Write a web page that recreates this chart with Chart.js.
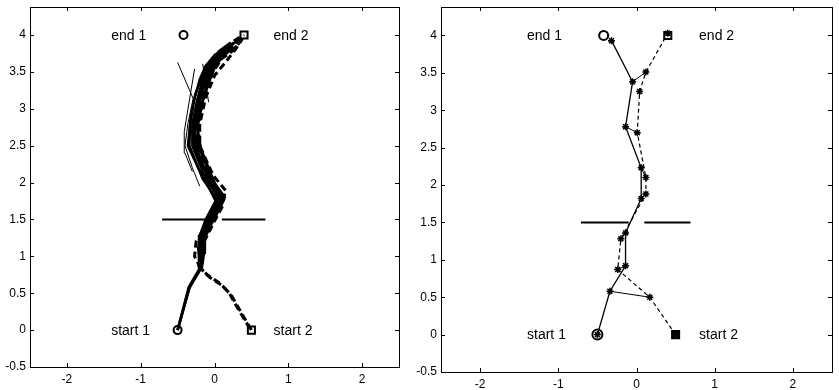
<!DOCTYPE html>
<html>
<head>
<meta charset="utf-8">
<script src="https://cdn.jsdelivr.net/npm/chart.js"></script>
<style>
  body { margin: 0; background: #fff; }
  canvas { position: absolute; top: 0; }
  #left { left: 0; }
  #right { left: 400px; }
</style>
</head>
<body>
<canvas id="left" width="420" height="390"></canvas>
<canvas id="right" width="439" height="390"></canvas>
<script>
const xTicks = [-2, -1, 0, 1, 2];
const yTicks = [-0.5, 0, 0.5, 1, 1.5, 2, 2.5, 3, 3.5, 4];

const noteText = ['end 1', 'end 2', 'start 1', 'start 2'];
const noteX = [-1.4, 0.8, -1.4, 0.8];
const noteY = [4, 4, 0, 0];

const startPts = [[-0.5, 0], [0.5, 0]];
const endPts = [[-0.42, 4], [0.4, 4]];

// wall with a door in the middle
const wallA = [[-0.71, 1.5], [-0.1, 1.5]];
const wallB = [[0.1, 1.5], [0.69, 1.5]];

// left plot: lots of runs, robot 1 solid, robot 2 dashed
const runsSolid = [
  [[-0.5,0],[-0.35,0.58],[-0.2,0.84],[-0.21,1.05],[-0.21,1.25],[-0.09,1.5],[0.06,1.8],[-0.12,2.05],[-0.3,2.5],[-0.3,2.8],[-0.24,3.1],[-0.16,3.4],[-0.08,3.6],[0.06,3.78],[0.22,3.9]],
  [[-0.5,0],[-0.34,0.57],[-0.19,0.84],[-0.17,1.05],[-0.17,1.25],[-0.05,1.5],[0.1,1.8],[-0.08,2.05],[-0.26,2.5],[-0.26,2.8],[-0.2,3.1],[-0.12,3.4],[-0.04,3.6],[0.1,3.78],[0.26,3.9]],
  [[-0.5,0],[-0.34,0.58],[-0.17,0.85],[-0.14,1.05],[-0.13,1.25],[-0.01,1.5],[0.14,1.8],[-0.04,2.05],[-0.22,2.5],[-0.22,2.8],[-0.16,3.1],[-0.08,3.4],[0,3.6],[0.14,3.78],[0.3,3.92]],
  [[-0.19,0.84],[-0.22,1.1],[-0.2,1.28],[-0.12,1.5],[0.03,1.78],[-0.16,2.05],[-0.34,2.5],[-0.33,2.8],[-0.28,3.1],[-0.2,3.4],[-0.12,3.58],[0.02,3.75]],
  [[-0.18,0.85],[-0.16,1.15],[-0.11,1.35],[0.02,1.55],[0.13,1.77],[0,2.0],[-0.18,2.45],[-0.24,2.75],[-0.18,3.05],[-0.06,3.4],[0.02,3.6],[0.16,3.75],[0.3,3.85]],
  [[-0.19,0.86],[-0.19,1.1],[-0.15,1.3],[-0.06,1.48],[0.08,1.74],[-0.05,1.98],[-0.21,2.35],[-0.28,2.65],[-0.23,3.0],[-0.14,3.3],[-0.05,3.52],[0.06,3.7],[0.2,3.82]],
  [[-0.2,0.83],[-0.18,1.0],[-0.2,1.2],[-0.1,1.42],[0.05,1.68],[0.1,1.85],[-0.1,2.12],[-0.25,2.4],[-0.3,2.7],[-0.26,2.95],[-0.18,3.25],[-0.1,3.5],[0,3.68],[0.12,3.8]],
  [[-0.19,0.85],[-0.2,1.15],[-0.14,1.4],[0.04,1.7],[-0.06,1.9],[-0.22,2.2],[-0.36,2.5],[-0.32,2.9],[-0.26,3.2],[-0.16,3.45],[-0.08,3.62]]
];
const runsDashed = [
  [[0.5,0],[0.36,0.24],[0.23,0.47],[0.11,0.6],[-0.07,0.72],[-0.19,0.84],[-0.16,1.05],[-0.15,1.25],[-0.03,1.5],[0.12,1.8],[-0.06,2.05],[-0.24,2.5],[-0.24,2.8],[-0.18,3.1],[-0.1,3.4],[0,3.6],[0.16,3.78],[0.3,3.9],[0.4,4.0]],
  [[0.48,0.02],[0.33,0.27],[0.2,0.5],[0.08,0.63],[-0.1,0.75],[-0.21,0.87],[-0.2,1.05],[-0.18,1.25],[-0.07,1.5],[0.08,1.78],[-0.1,2.05],[-0.28,2.5],[-0.27,2.8],[-0.21,3.1],[-0.13,3.4],[-0.04,3.62],[0.12,3.8],[0.26,3.92],[0.36,3.98]],
  [[-0.19,0.84],[-0.27,1.0],[-0.25,1.2],[-0.1,1.45],[0.02,1.62],[0.16,1.88],[-0.02,2.1],[-0.2,2.5],[-0.2,2.85],[-0.14,3.2],[-0.02,3.5],[0.1,3.68],[0.24,3.78],[0.34,3.9]],
  [[-0.17,0.9],[-0.14,1.2],[0.0,1.48],[0.12,1.7],[0.02,1.95],[-0.17,2.3],[-0.22,2.7],[-0.12,3.15],[0.0,3.45],[0.14,3.62],[0.28,3.8],[0.38,3.95]]
];
const runsStray = [
  [[-0.2,1.95],[-0.3,2.2],[-0.4,2.5],[-0.36,2.8],[-0.29,3.14],[-0.5,3.63]],
  [[-0.3,2.15],[-0.4,2.4],[-0.41,2.69],[-0.27,3.54]],
  [[-0.08,3.09],[-0.16,3.61]]
];

// right plot: one run with way points
const pathSolid = [[-0.5,0],[-0.34,0.58],[-0.14,0.92],[-0.14,1.36],[0.06,1.82],[0.06,2.23],[-0.14,2.78],[-0.05,3.38],[-0.32,3.93]];
const pathDashed = [[0.5,0],[0.17,0.5],[-0.24,0.87],[-0.2,1.28],[0.12,1.88],[0.12,2.1],[0.01,2.7],[0.04,3.25],[0.12,3.51],[0.4,4.03]];
const pairs = [[1,1],[2,2],[3,3],[4,4],[5,5],[6,6],[7,8]];

const FONT = '"Liberation Sans", Arial, Helvetica, sans-serif';

function xy(list) {
  return list.map(p => ({x: p[0], y: p[1]}));
}

function line(list, opts) {
  return Object.assign({
    data: xy(list),
    showLine: true,
    borderColor: '#000',
    backgroundColor: '#000',
    borderWidth: 1.5,
    pointRadius: 0,
    tension: 0
  }, opts);
}

function marker(list, style, r, opts) {
  return Object.assign({
    data: xy(list),
    showLine: false,
    pointStyle: style,
    pointRadius: r,
    borderColor: '#000',
    backgroundColor: 'rgba(0,0,0,0)',
    pointBorderWidth: 2
  }, opts);
}

// box, inward ticks on all sides and the text notes
const frame = {
  id: 'frame',
  afterDraw(chart) {
    const {ctx, chartArea: a, scales: {x, y}} = chart;
    ctx.save();
    ctx.strokeStyle = '#000';
    ctx.lineWidth = 1;
    ctx.strokeRect(Math.round(a.left) + 0.5, Math.round(a.top) + 0.5,
      Math.round(a.right - a.left), Math.round(a.bottom - a.top));
    ctx.beginPath();
    xTicks.forEach(v => {
      const px = Math.round(x.getPixelForValue(v)) + 0.5;
      ctx.moveTo(px, a.bottom); ctx.lineTo(px, a.bottom - 4);
      ctx.moveTo(px, a.top); ctx.lineTo(px, a.top + 4);
    });
    yTicks.forEach(v => {
      const py = Math.round(y.getPixelForValue(v)) + 0.5;
      ctx.moveTo(a.left, py); ctx.lineTo(a.left + 4, py);
      ctx.moveTo(a.right, py); ctx.lineTo(a.right - 4, py);
    });
    ctx.stroke();

    ctx.fillStyle = '#000';
    ctx.font = '14px ' + FONT;
    ctx.textAlign = 'left';
    ctx.textBaseline = 'middle';
    noteText.forEach((t, i) => {
      ctx.fillText(t, x.getPixelForValue(noteX[i]), y.getPixelForValue(noteY[i]) + 1);
    });
    ctx.restore();
  }
};

function makeChart(id, datasets, pad, yWidth, xHeight) {
  return new Chart(document.getElementById(id), {
    type: 'scatter',
    data: { datasets: datasets },
    options: {
      responsive: false,
      animation: false,
      layout: { padding: pad },
      plugins: { legend: { display: false }, tooltip: { enabled: false } },
      scales: {
        x: {
          type: 'linear', min: -2.5, max: 2.5,
          grid: { display: false, drawTicks: false }, border: { display: false },
          ticks: { color: '#000', font: { size: 12, family: FONT }, padding: 5, maxRotation: 0, callback: v => String(v) },
          afterBuildTicks: s => { s.ticks = xTicks.map(v => ({value: v})); },
          afterFit: s => { s.height = xHeight; s.paddingLeft = 0; s.paddingRight = 0; }
        },
        y: {
          type: 'linear', min: -0.5, max: 4.38,
          grid: { display: false, drawTicks: false }, border: { display: false },
          ticks: { color: '#000', font: { size: 12, family: FONT }, padding: 4, callback: v => String(v) },
          afterBuildTicks: s => { s.ticks = yTicks.map(v => ({value: v})); },
          afterFit: s => { s.width = yWidth; s.paddingTop = 0; s.paddingBottom = 0; }
        }
      }
    },
    plugins: [frame]
  });
}

// left plot
const leftSets = [
  marker(startPts.slice(0, 1), 'circle', 4),
  marker(startPts.slice(1), 'rect', 5),
  marker(endPts.slice(0, 1), 'circle', 4),
  marker(endPts.slice(1), 'rect', 5),
  line(wallA, { borderWidth: 2 }),
  line(wallB, { borderWidth: 2 })
];
runsSolid.forEach(r => leftSets.push(line(r, { borderWidth: 2.5 })));
runsDashed.forEach(r => leftSets.push(line(r, { borderWidth: 3, borderDash: [7, 4] })));
runsStray.forEach(r => leftSets.push(line(r, { borderWidth: 1 })));

makeChart('left', leftSets, { left: 0, right: 21, top: 4, bottom: 0 }, 30, 23);

// right plot
const rightSets = [
  line(pathSolid, { borderWidth: 1.3, pointStyle: 'star', pointRadius: 3.5, pointBorderWidth: 1.5 }),
  line(pathDashed, { borderWidth: 1.2, borderDash: [4, 3], pointStyle: 'star', pointRadius: 3.5, pointBorderWidth: 1.5 }),
  line(wallA, { borderWidth: 2 }),
  line(wallB, { borderWidth: 2 })
];
pairs.forEach(p => rightSets.push(line([pathSolid[p[0]], pathDashed[p[1]]], { borderWidth: 1 })));
rightSets.push(
  marker(startPts.slice(0, 1), 'circle', 5),
  marker(startPts.slice(1), 'rect', 5, { backgroundColor: '#444' }),
  marker(endPts.slice(0, 1), 'circle', 4.5),
  marker(endPts.slice(1), 'rect', 5)
);

makeChart('right', rightSets, { left: 0, right: 1, top: 4, bottom: 0 }, 41, 18);
</script>
</body>
</html>
